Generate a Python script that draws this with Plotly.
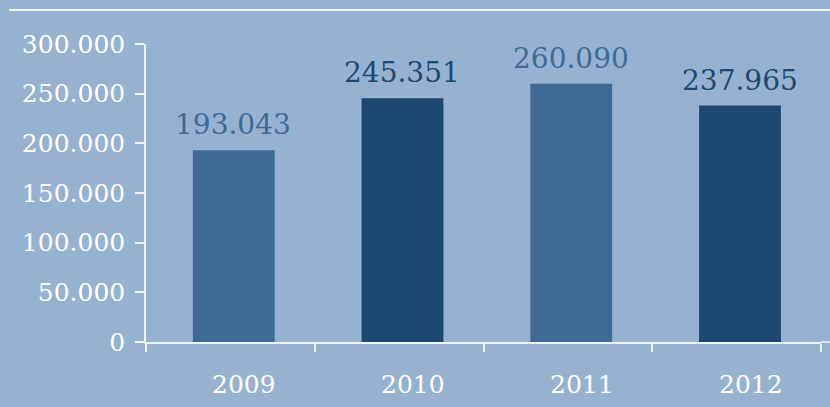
import plotly.graph_objects as go

years = ["2009", "2010", "2011", "2012"]
values = [193043, 245351, 260090, 237965]
value_labels = ["193.043", "245.351", "260.090", "237.965"]
bar_colors = ["#3F6A94", "#1E4870", "#3F6A94", "#1E4870"]
y_tickvals = [0, 50000, 100000, 150000, 200000, 250000, 300000]
y_ticktext = ["0", "50.000", "100.000", "150.000", "200.000", "250.000", "300.000"]

BG = "#97B2D1"
LINE = "#EEF3F8"
FONT = "DejaVu Serif"

fig = go.Figure(
    go.Bar(
        x=years,
        y=values,
        width=0.485,
        offset=-0.2425 + 0.02,
        marker=dict(color=bar_colors, line=dict(width=0)),
        hoverinfo="skip",
    )
)

annotations = []
for i, (yr, v, lab, c) in enumerate(zip(years, values, value_labels, bar_colors)):
    # category axis: position by category index
    annotations.append(dict(
        x=i, y=v, xref="x", yref="y", text=lab, showarrow=False,
        xanchor="center", yanchor="bottom", xshift=3, yshift=7,
        font=dict(family=FONT, size=28, color=c),
    ))
    annotations.append(dict(
        x=i, y=0, xref="x", yref="y", text=yr, showarrow=False,
        xanchor="center", yanchor="middle", xshift=14, yshift=-42,
        font=dict(family=FONT, size=25, color="white"),
    ))

fig.update_layout(
    width=830,
    height=407,
    paper_bgcolor=BG,
    plot_bgcolor=BG,
    margin=dict(l=146, r=9, t=44, b=65),
    showlegend=False,
    bargap=0.515,
    annotations=annotations,
    xaxis=dict(
        type="category",
        tickson="boundaries",
        ticks="outside",
        ticklen=8,
        tickwidth=1.5,
        tickcolor=LINE,
        showline=True,
        linecolor=LINE,
        linewidth=1.5,
        showgrid=False,
        showticklabels=False,
        range=[-0.5, 3.5],
    ),
    yaxis=dict(
        range=[0, 300000],
        tickvals=y_tickvals,
        ticktext=y_ticktext,
        ticks="outside",
        ticklen=9,
        tickwidth=1.5,
        tickcolor=LINE,
        showline=True,
        linecolor=LINE,
        linewidth=1.5,
        showgrid=False,
        zeroline=False,
        tickfont=dict(family=FONT, size=25, color="white"),
        ticklabelstandoff=5,
    ),
    shapes=[
        dict(type="line", xref="paper", yref="paper",
             x0=-0.203, x1=1.02, y0=1.114, y1=1.114,
             line=dict(color=LINE, width=2)),
        dict(type="line", xref="paper", yref="paper",
             x0=1.0, x1=1.02, y0=0, y1=0,
             line=dict(color=LINE, width=1.5)),
    ],
)

fig.write_html("out.html", config={"displayModeBar": False},
               post_script="document.body.style.margin='0';")
